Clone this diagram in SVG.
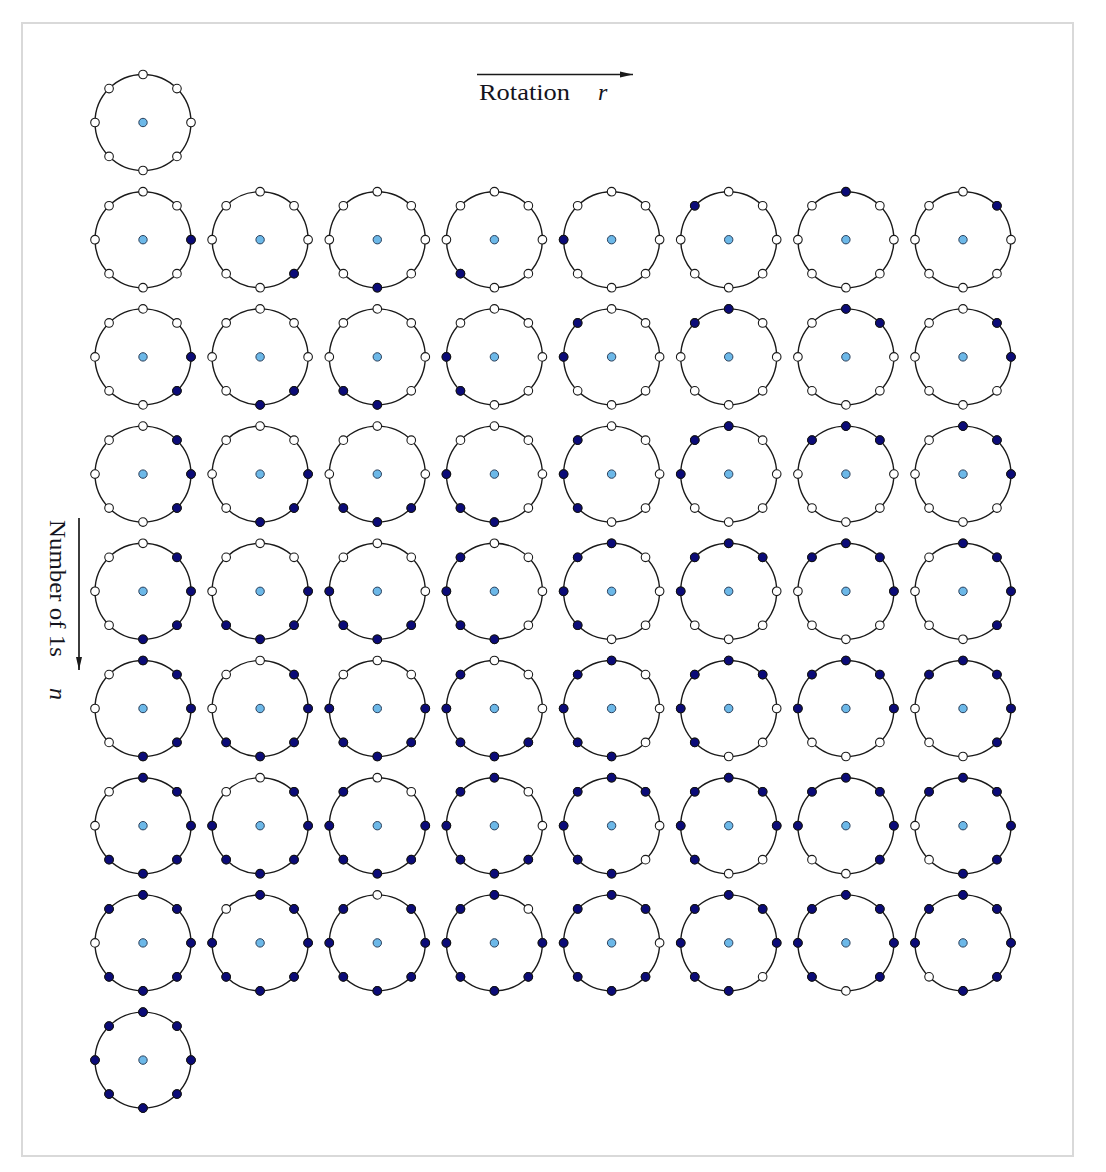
<svg xmlns="http://www.w3.org/2000/svg" xmlns:xlink="http://www.w3.org/1999/xlink" width="1106" height="1172" viewBox="0 0 1106 1172">
<style>
.rc{fill:none;stroke:#1a1a1a;stroke-width:1.4}
.o{fill:#fff;stroke:#1a1a1a;stroke-width:1.1}
.f{fill:#0b0b78;stroke:#111;stroke-width:1}
.c{fill:#6cb8e8;stroke:#2a3f5a;stroke-width:1}
.t{font-family:"Liberation Serif","Times New Roman",serif;font-size:24px;fill:#141420}
.ax{stroke:#1a1a1a;stroke-width:1.7;fill:none}
</style>
<defs>
<marker id="ah" markerWidth="14" markerHeight="8" refX="13" refY="4" orient="auto" markerUnits="userSpaceOnUse">
<path d="M0,1 L13,4 L0,7 Z" fill="#1a1a1a"/>
</marker>
<circle id="p0" cx="48" cy="0" r="4.3"/>
<circle id="p1" cx="33.94" cy="33.94" r="4.3"/>
<circle id="p2" cx="0" cy="48" r="4.3"/>
<circle id="p3" cx="-33.94" cy="33.94" r="4.3"/>
<circle id="p4" cx="-48" cy="0" r="4.3"/>
<circle id="p5" cx="-33.94" cy="-33.94" r="4.3"/>
<circle id="p6" cx="0" cy="-48" r="4.3"/>
<circle id="p7" cx="33.94" cy="-33.94" r="4.3"/>
<g id="ring">
<circle r="48" class="rc"/>
<use href="#p0" class="o"/><use href="#p1" class="o"/><use href="#p2" class="o"/><use href="#p3" class="o"/>
<use href="#p4" class="o"/><use href="#p5" class="o"/><use href="#p6" class="o"/><use href="#p7" class="o"/>
<circle r="4.2" class="c"/>
</g>
</defs>
<rect x="0" y="0" width="1106" height="1172" fill="#fff"/>
<rect x="22" y="23" width="1051" height="1133" fill="#fff" stroke="#d9d9d9" stroke-width="2"/>

<g id="connectors">
<line class="ax" x1="477" y1="74.5" x2="633" y2="74.5" marker-end="url(#ah)"/>
<line class="ax" x1="79" y1="518" x2="79" y2="670" marker-end="url(#ah)"/>
</g>
<g id="labels">
<text class="t" x="479" y="100" textLength="91" lengthAdjust="spacingAndGlyphs">Rotation</text>
<text class="t" x="598" y="100" font-style="italic">r</text>
<text class="t" transform="translate(50,520) rotate(90)" textLength="137" lengthAdjust="spacingAndGlyphs">Number of 1s</text>
<text class="t" transform="translate(50,688) rotate(90)" font-style="italic">n</text>
</g>

<g id="n0r0" transform="translate(143,122.5)"><use href="#ring"/></g>

<g id="n1r0" transform="translate(143,239.7)"><use href="#ring"/><use href="#p0" class="f"/></g>
<g id="n1r1" transform="translate(260.1,239.7)"><use href="#ring"/><use href="#p1" class="f"/></g>
<g id="n1r2" transform="translate(377.3,239.7)"><use href="#ring"/><use href="#p2" class="f"/></g>
<g id="n1r3" transform="translate(494.4,239.7)"><use href="#ring"/><use href="#p3" class="f"/></g>
<g id="n1r4" transform="translate(611.6,239.7)"><use href="#ring"/><use href="#p4" class="f"/></g>
<g id="n1r5" transform="translate(728.7,239.7)"><use href="#ring"/><use href="#p5" class="f"/></g>
<g id="n1r6" transform="translate(845.9,239.7)"><use href="#ring"/><use href="#p6" class="f"/></g>
<g id="n1r7" transform="translate(963,239.7)"><use href="#ring"/><use href="#p7" class="f"/></g>

<g id="n2r0" transform="translate(143,356.9)"><use href="#ring"/><use href="#p0" class="f"/><use href="#p1" class="f"/></g>
<g id="n2r1" transform="translate(260.1,356.9)"><use href="#ring"/><use href="#p1" class="f"/><use href="#p2" class="f"/></g>
<g id="n2r2" transform="translate(377.3,356.9)"><use href="#ring"/><use href="#p2" class="f"/><use href="#p3" class="f"/></g>
<g id="n2r3" transform="translate(494.4,356.9)"><use href="#ring"/><use href="#p3" class="f"/><use href="#p4" class="f"/></g>
<g id="n2r4" transform="translate(611.6,356.9)"><use href="#ring"/><use href="#p4" class="f"/><use href="#p5" class="f"/></g>
<g id="n2r5" transform="translate(728.7,356.9)"><use href="#ring"/><use href="#p5" class="f"/><use href="#p6" class="f"/></g>
<g id="n2r6" transform="translate(845.9,356.9)"><use href="#ring"/><use href="#p6" class="f"/><use href="#p7" class="f"/></g>
<g id="n2r7" transform="translate(963,356.9)"><use href="#ring"/><use href="#p7" class="f"/><use href="#p0" class="f"/></g>

<g id="n3r0" transform="translate(143,474.1)"><use href="#ring"/><use href="#p7" class="f"/><use href="#p0" class="f"/><use href="#p1" class="f"/></g>
<g id="n3r1" transform="translate(260.1,474.1)"><use href="#ring"/><use href="#p0" class="f"/><use href="#p1" class="f"/><use href="#p2" class="f"/></g>
<g id="n3r2" transform="translate(377.3,474.1)"><use href="#ring"/><use href="#p1" class="f"/><use href="#p2" class="f"/><use href="#p3" class="f"/></g>
<g id="n3r3" transform="translate(494.4,474.1)"><use href="#ring"/><use href="#p2" class="f"/><use href="#p3" class="f"/><use href="#p4" class="f"/></g>
<g id="n3r4" transform="translate(611.6,474.1)"><use href="#ring"/><use href="#p3" class="f"/><use href="#p4" class="f"/><use href="#p5" class="f"/></g>
<g id="n3r5" transform="translate(728.7,474.1)"><use href="#ring"/><use href="#p4" class="f"/><use href="#p5" class="f"/><use href="#p6" class="f"/></g>
<g id="n3r6" transform="translate(845.9,474.1)"><use href="#ring"/><use href="#p5" class="f"/><use href="#p6" class="f"/><use href="#p7" class="f"/></g>
<g id="n3r7" transform="translate(963,474.1)"><use href="#ring"/><use href="#p6" class="f"/><use href="#p7" class="f"/><use href="#p0" class="f"/></g>

<g id="n4r0" transform="translate(143,591.3)"><use href="#ring"/><use href="#p7" class="f"/><use href="#p0" class="f"/><use href="#p1" class="f"/><use href="#p2" class="f"/></g>
<g id="n4r1" transform="translate(260.1,591.3)"><use href="#ring"/><use href="#p0" class="f"/><use href="#p1" class="f"/><use href="#p2" class="f"/><use href="#p3" class="f"/></g>
<g id="n4r2" transform="translate(377.3,591.3)"><use href="#ring"/><use href="#p1" class="f"/><use href="#p2" class="f"/><use href="#p3" class="f"/><use href="#p4" class="f"/></g>
<g id="n4r3" transform="translate(494.4,591.3)"><use href="#ring"/><use href="#p2" class="f"/><use href="#p3" class="f"/><use href="#p4" class="f"/><use href="#p5" class="f"/></g>
<g id="n4r4" transform="translate(611.6,591.3)"><use href="#ring"/><use href="#p3" class="f"/><use href="#p4" class="f"/><use href="#p5" class="f"/><use href="#p6" class="f"/></g>
<g id="n4r5" transform="translate(728.7,591.3)"><use href="#ring"/><use href="#p4" class="f"/><use href="#p5" class="f"/><use href="#p6" class="f"/><use href="#p7" class="f"/></g>
<g id="n4r6" transform="translate(845.9,591.3)"><use href="#ring"/><use href="#p5" class="f"/><use href="#p6" class="f"/><use href="#p7" class="f"/><use href="#p0" class="f"/></g>
<g id="n4r7" transform="translate(963,591.3)"><use href="#ring"/><use href="#p6" class="f"/><use href="#p7" class="f"/><use href="#p0" class="f"/><use href="#p1" class="f"/></g>

<g id="n5r0" transform="translate(143,708.5)"><use href="#ring"/><use href="#p6" class="f"/><use href="#p7" class="f"/><use href="#p0" class="f"/><use href="#p1" class="f"/><use href="#p2" class="f"/></g>
<g id="n5r1" transform="translate(260.1,708.5)"><use href="#ring"/><use href="#p7" class="f"/><use href="#p0" class="f"/><use href="#p1" class="f"/><use href="#p2" class="f"/><use href="#p3" class="f"/></g>
<g id="n5r2" transform="translate(377.3,708.5)"><use href="#ring"/><use href="#p0" class="f"/><use href="#p1" class="f"/><use href="#p2" class="f"/><use href="#p3" class="f"/><use href="#p4" class="f"/></g>
<g id="n5r3" transform="translate(494.4,708.5)"><use href="#ring"/><use href="#p1" class="f"/><use href="#p2" class="f"/><use href="#p3" class="f"/><use href="#p4" class="f"/><use href="#p5" class="f"/></g>
<g id="n5r4" transform="translate(611.6,708.5)"><use href="#ring"/><use href="#p2" class="f"/><use href="#p3" class="f"/><use href="#p4" class="f"/><use href="#p5" class="f"/><use href="#p6" class="f"/></g>
<g id="n5r5" transform="translate(728.7,708.5)"><use href="#ring"/><use href="#p3" class="f"/><use href="#p4" class="f"/><use href="#p5" class="f"/><use href="#p6" class="f"/><use href="#p7" class="f"/></g>
<g id="n5r6" transform="translate(845.9,708.5)"><use href="#ring"/><use href="#p4" class="f"/><use href="#p5" class="f"/><use href="#p6" class="f"/><use href="#p7" class="f"/><use href="#p0" class="f"/></g>
<g id="n5r7" transform="translate(963,708.5)"><use href="#ring"/><use href="#p5" class="f"/><use href="#p6" class="f"/><use href="#p7" class="f"/><use href="#p0" class="f"/><use href="#p1" class="f"/></g>

<g id="n6r0" transform="translate(143,825.7)"><use href="#ring"/><use href="#p6" class="f"/><use href="#p7" class="f"/><use href="#p0" class="f"/><use href="#p1" class="f"/><use href="#p2" class="f"/><use href="#p3" class="f"/></g>
<g id="n6r1" transform="translate(260.1,825.7)"><use href="#ring"/><use href="#p7" class="f"/><use href="#p0" class="f"/><use href="#p1" class="f"/><use href="#p2" class="f"/><use href="#p3" class="f"/><use href="#p4" class="f"/></g>
<g id="n6r2" transform="translate(377.3,825.7)"><use href="#ring"/><use href="#p0" class="f"/><use href="#p1" class="f"/><use href="#p2" class="f"/><use href="#p3" class="f"/><use href="#p4" class="f"/><use href="#p5" class="f"/></g>
<g id="n6r3" transform="translate(494.4,825.7)"><use href="#ring"/><use href="#p1" class="f"/><use href="#p2" class="f"/><use href="#p3" class="f"/><use href="#p4" class="f"/><use href="#p5" class="f"/><use href="#p6" class="f"/></g>
<g id="n6r4" transform="translate(611.6,825.7)"><use href="#ring"/><use href="#p2" class="f"/><use href="#p3" class="f"/><use href="#p4" class="f"/><use href="#p5" class="f"/><use href="#p6" class="f"/><use href="#p7" class="f"/></g>
<g id="n6r5" transform="translate(728.7,825.7)"><use href="#ring"/><use href="#p3" class="f"/><use href="#p4" class="f"/><use href="#p5" class="f"/><use href="#p6" class="f"/><use href="#p7" class="f"/><use href="#p0" class="f"/></g>
<g id="n6r6" transform="translate(845.9,825.7)"><use href="#ring"/><use href="#p4" class="f"/><use href="#p5" class="f"/><use href="#p6" class="f"/><use href="#p7" class="f"/><use href="#p0" class="f"/><use href="#p1" class="f"/></g>
<g id="n6r7" transform="translate(963,825.7)"><use href="#ring"/><use href="#p5" class="f"/><use href="#p6" class="f"/><use href="#p7" class="f"/><use href="#p0" class="f"/><use href="#p1" class="f"/><use href="#p2" class="f"/></g>

<g id="n7r0" transform="translate(143,942.9)"><use href="#ring"/><use href="#p5" class="f"/><use href="#p6" class="f"/><use href="#p7" class="f"/><use href="#p0" class="f"/><use href="#p1" class="f"/><use href="#p2" class="f"/><use href="#p3" class="f"/></g>
<g id="n7r1" transform="translate(260.1,942.9)"><use href="#ring"/><use href="#p6" class="f"/><use href="#p7" class="f"/><use href="#p0" class="f"/><use href="#p1" class="f"/><use href="#p2" class="f"/><use href="#p3" class="f"/><use href="#p4" class="f"/></g>
<g id="n7r2" transform="translate(377.3,942.9)"><use href="#ring"/><use href="#p7" class="f"/><use href="#p0" class="f"/><use href="#p1" class="f"/><use href="#p2" class="f"/><use href="#p3" class="f"/><use href="#p4" class="f"/><use href="#p5" class="f"/></g>
<g id="n7r3" transform="translate(494.4,942.9)"><use href="#ring"/><use href="#p0" class="f"/><use href="#p1" class="f"/><use href="#p2" class="f"/><use href="#p3" class="f"/><use href="#p4" class="f"/><use href="#p5" class="f"/><use href="#p6" class="f"/></g>
<g id="n7r4" transform="translate(611.6,942.9)"><use href="#ring"/><use href="#p1" class="f"/><use href="#p2" class="f"/><use href="#p3" class="f"/><use href="#p4" class="f"/><use href="#p5" class="f"/><use href="#p6" class="f"/><use href="#p7" class="f"/></g>
<g id="n7r5" transform="translate(728.7,942.9)"><use href="#ring"/><use href="#p2" class="f"/><use href="#p3" class="f"/><use href="#p4" class="f"/><use href="#p5" class="f"/><use href="#p6" class="f"/><use href="#p7" class="f"/><use href="#p0" class="f"/></g>
<g id="n7r6" transform="translate(845.9,942.9)"><use href="#ring"/><use href="#p3" class="f"/><use href="#p4" class="f"/><use href="#p5" class="f"/><use href="#p6" class="f"/><use href="#p7" class="f"/><use href="#p0" class="f"/><use href="#p1" class="f"/></g>
<g id="n7r7" transform="translate(963,942.9)"><use href="#ring"/><use href="#p4" class="f"/><use href="#p5" class="f"/><use href="#p6" class="f"/><use href="#p7" class="f"/><use href="#p0" class="f"/><use href="#p1" class="f"/><use href="#p2" class="f"/></g>

<g id="n8r0" transform="translate(143,1060.1)"><use href="#ring"/><use href="#p0" class="f"/><use href="#p1" class="f"/><use href="#p2" class="f"/><use href="#p3" class="f"/><use href="#p4" class="f"/><use href="#p5" class="f"/><use href="#p6" class="f"/><use href="#p7" class="f"/></g>
</svg>
